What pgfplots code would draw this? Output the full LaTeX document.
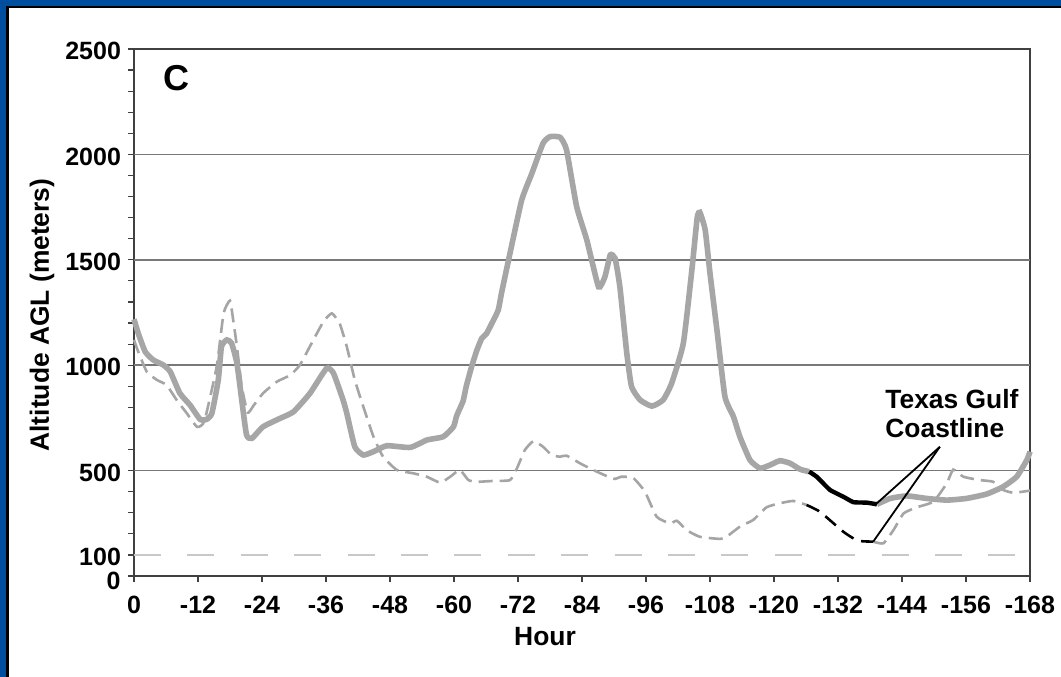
\documentclass[border=0pt]{standalone}
\usepackage{pgfplots}
\pgfplotsset{compat=1.18}
\usepackage{fontspec}
\setmainfont{Liberation Sans}
\definecolor{slideblue}{RGB}{0,78,158}
\definecolor{linegray}{RGB}{166,166,166}
\definecolor{dashgray}{RGB}{165,165,165}
\definecolor{lightdash}{RGB}{200,200,200}
\definecolor{gridgray}{RGB}{120,120,120}
\begin{document}
\begin{tikzpicture}
\useasboundingbox (0,0) rectangle (530.5pt,338pt);
\fill[white] (-2pt,-2pt) rectangle (533pt,340pt);
\fill[slideblue] (-2pt,335pt) rectangle (533pt,340pt);
\fill[slideblue] (-2pt,-2pt) rectangle (3pt,340pt);
\draw[black,line width=1.3pt] (3.6pt,-3pt) -- (3.6pt,334.4pt) -- (534pt,334.4pt);
\begin{axis}[
  scale only axis,
  width=448pt, height=263.5pt,
  at={(67pt,50pt)}, anchor=south west,
  xmin=0, xmax=168, ymin=0, ymax=2500,
  axis line style={draw=black!75, line width=1pt},
  xtick={0,12,...,168},
  xticklabels={0,-12,-24,-36,-48,-60,-72,-84,-96,-108,-120,-132,-144,-156,-168},
  ytick={0,100,...,2500},
  yticklabels={,100,,,,500,,,,,1000,,,,,1500,,,,,2000,,,,,2500},
  extra y ticks={500,1000,1500,2000},
  extra y tick labels={},
  extra y tick style={grid=major, major grid style={gridgray, line width=0.8pt}, major tick length=0pt},
  tick align=outside,
  major tick length=3pt,
  tick style={black!75, line width=0.6pt},
  xtick pos=bottom, ytick pos=left,
  tick label style={font=\bfseries\fontsize{12.5}{14}\selectfont},
  xticklabel style={yshift=-3.5pt},
  yticklabel style={yshift=-1pt, inner ysep=0pt},
  clip=false,
]
% 100 m reference line
\addplot[lightdash, line width=1.3pt, dash pattern=on 13.5pt off 13.2pt] coordinates {(0,100) (168,100)};
% dashed series
\addplot[dashgray, line width=1.3pt, dash pattern=on 7pt off 3.5pt, smooth, tension=0.3] coordinates {
(0,1120) (0.8,1064) (2.4,969) (4.3,930) (6.1,906) (8.0,835) (9.9,772) (11.8,708) (13.2,735)
(15.5,993) (16.8,1246) (18.0,1306) (18.6,1214) (19.3,1088) (20.2,900) (21.3,775) (22.4,808)
(24.2,867) (26.8,922) (29.3,953) (31.1,1001) (33.3,1104) (35.5,1206) (37.1,1246) (38.6,1195)
(39.9,1088) (41.4,930) (43.0,803) (44.9,661) (46.7,566) (49.3,503) (52.4,487) (54.9,471)
(57.4,443) (59.3,471) (61.1,503) (62.7,455) (64.3,447) (67.4,451) (70.5,455) (71.8,511)
(73.3,598) (74.9,640) (76.7,613) (78.3,574) (79.9,566) (81.1,571) (83.6,535) (86.1,503)
(89.9,461) (91.4,471) (93.6,465) (95.8,400) (98.0,281) (100.5,250) (101.8,262) (103.6,218)
(106.1,186) (109.9,176) (111.1,186) (113.6,234) (116.1,266) (118.6,326) (121.1,345)
(123.6,356) (126.1,337)};
\addplot[dashgray, line width=1.3pt, dash pattern=on 7pt off 3.5pt, smooth, tension=0.3] coordinates {
(138.6,163) (140.5,155) (142.4,218) (144.3,297) (146.8,326) (149.9,353) (152.4,440)
(153.6,505) (155.5,471) (158.6,455) (161.1,447) (163.0,408) (164.9,395) (168.0,405)};
\addplot[black, line width=1.3pt, dash pattern=on 7pt off 4pt, smooth, tension=0.3] coordinates {
(126.1,337) (128.6,305) (133.0,210) (135.0,177) (136.5,165) (138.6,163)};
% solid series
\addplot[linegray, line width=2.8pt, smooth, tension=0.3] coordinates {
(0,1218) (0.8,1151) (2.1,1064) (3.6,1025) (5.5,1001) (6.8,969) (8.6,867) (10.5,811)
(12.4,743) (13.6,743) (14.6,772) (15.8,930) (16.4,1088) (17.4,1120) (18.3,1104) (19.3,1009)
(20.2,835) (21.1,669) (22.1,653) (24.2,708) (27.4,748) (29.9,779) (33.0,867) (36.1,985)
(37.4,962) (39.2,835) (39.9,772) (41.4,613) (43.0,574) (44.9,590) (47.4,618) (51.8,610)
(54.9,645) (58.0,661) (59.9,708) (60.5,760) (61.7,830) (62.3,900) (63.3,993) (64.3,1072)
(65.2,1127) (66.1,1150) (67.1,1199) (68.3,1262) (68.9,1341) (70.5,1531) (72.7,1784)
(74.6,1910) (76.7,2053) (78.0,2084) (79.9,2081) (81.1,2021) (83.0,1752) (84.9,1594)
(87.1,1372) (88.3,1420) (89.3,1523) (90.2,1507) (91.1,1372) (92.4,1056) (93.3,898)
(94.9,835) (97.1,806) (99.2,835) (100.8,914) (103.0,1104) (104.6,1452) (105.6,1700)
(106.1,1725) (107.1,1641) (108.0,1436) (109.3,1167) (110.8,851) (112.4,756) (113.6,661)
(115.5,550) (117.4,511) (119.3,527) (121.1,547) (123.0,535) (124.9,506) (126.6,495)};
\addplot[linegray, line width=2.8pt, smooth, tension=0.3] coordinates {
(139.3,340) (141.8,368) (144.9,380) (148.6,368) (152.4,360) (156.1,368) (159.9,389)
(163.0,424) (165.5,471) (167.4,550) (168,590)};
\addplot[black, line width=2.2pt, smooth, tension=0.2] coordinates {
(126.6,495) (128.0,471) (130.5,408) (133.0,376) (134.9,350) (137.4,348) (139.3,340)};
% annotation leaders
\draw[black, line width=0.9pt] (axis cs:151.1,613) -- (axis cs:139.3,345);
\draw[black, line width=0.9pt] (axis cs:151.1,613) -- (axis cs:138.6,163);
\node[anchor=east, inner sep=0pt, xshift=-6.5pt, yshift=-2.5pt, font=\bfseries\fontsize{12.5}{14}\selectfont] at (axis cs:0,0) {0};
\end{axis}
\node[font=\bfseries\fontsize{18}{20}\selectfont] at (88pt,299pt) {C};
\node[anchor=base west, inner sep=0pt, font=\bfseries\fontsize{13.2}{15}\selectfont] at (442.5pt,134pt) {Texas Gulf};
\node[anchor=base west, inner sep=0pt, font=\bfseries\fontsize{13.2}{15}\selectfont] at (442.5pt,119.5pt) {Coastline};
\node[rotate=90, font=\bfseries\fontsize{13.2}{15}\selectfont] at (21pt,180.5pt) {Altitude AGL (meters)};
\node[font=\bfseries\fontsize{13.2}{15}\selectfont] at (272.5pt,19.5pt) {Hour};
\end{tikzpicture}
\end{document}
